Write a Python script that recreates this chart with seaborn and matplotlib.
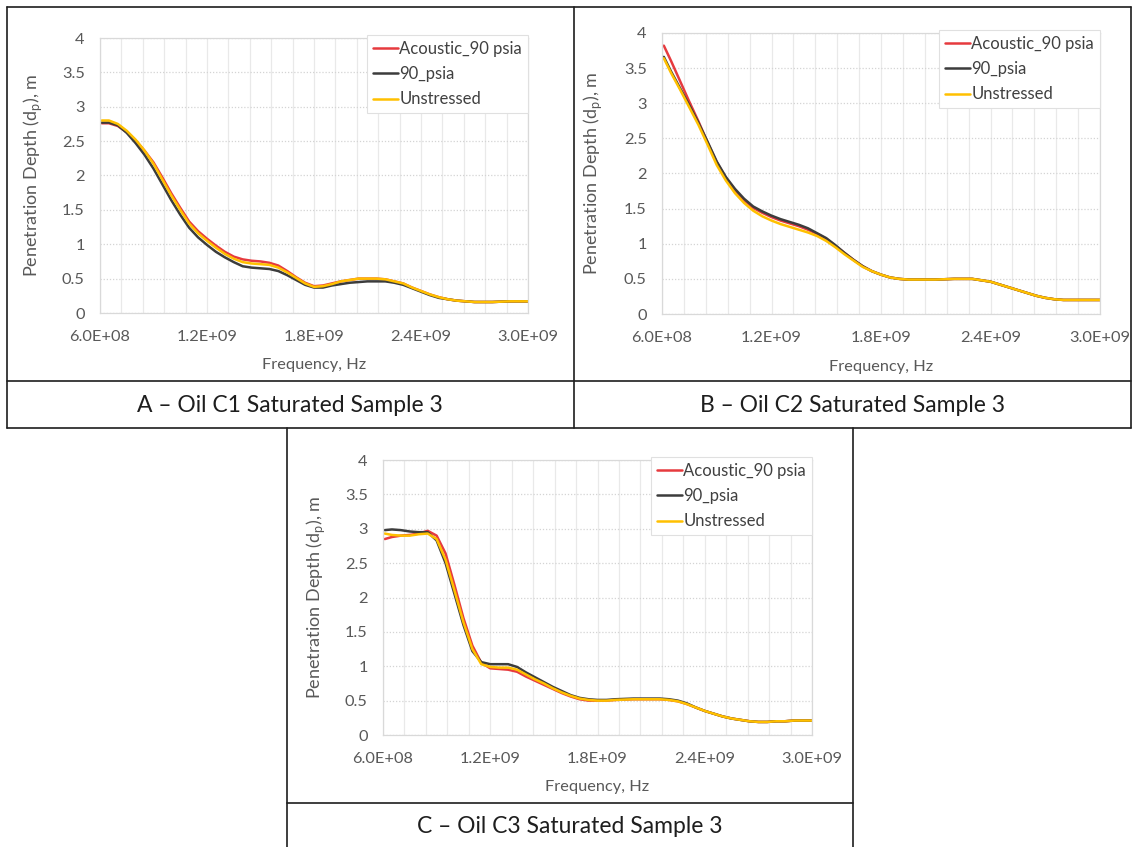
import numpy as np
import pandas as pd
import matplotlib
matplotlib.use("Agg")
import matplotlib.pyplot as plt
import seaborn as sns
from matplotlib.lines import Line2D
from matplotlib.ticker import FixedLocator, FuncFormatter

# ---------------- data ----------------
SERIES = ["Acoustic_90 psia", "90_psia", "Unstressed"]
COLORS = ["#E63A3E", "#3C3C3C", "#FFC000"]

X_TICKS = [6.0e8, 1.2e9, 1.8e9, 2.4e9, 3.0e9]
X_TICK_LABELS = ["6.0E+08", "1.2E+09", "1.8E+09", "2.4E+09", "3.0E+09"]
Y_TICKS = [0, 0.5, 1, 1.5, 2, 2.5, 3, 3.5, 4]

FREQ = [6.1e8, 6.5e8, 7.0e8, 7.5e8, 8.0e8, 8.5e8, 9.0e8, 9.5e8, 1.0e9, 1.05e9,
        1.1e9, 1.15e9, 1.2e9, 1.25e9, 1.3e9, 1.35e9, 1.4e9, 1.45e9, 1.5e9, 1.55e9,
        1.6e9, 1.65e9, 1.7e9, 1.75e9, 1.8e9, 1.85e9, 1.9e9, 1.95e9, 2.0e9, 2.05e9,
        2.1e9, 2.15e9, 2.2e9, 2.25e9, 2.3e9, 2.35e9, 2.4e9, 2.45e9, 2.5e9, 2.55e9,
        2.6e9, 2.65e9, 2.7e9, 2.75e9, 2.8e9, 2.85e9, 2.9e9, 2.95e9, 3.0e9]

A_ACOUSTIC = [2.76, 2.76, 2.72, 2.63, 2.51, 2.36, 2.19, 1.97, 1.74, 1.53,
              1.33, 1.19, 1.08, 0.98, 0.89, 0.82, 0.78, 0.76, 0.75, 0.73,
              0.69, 0.61, 0.52, 0.44, 0.39, 0.40, 0.43, 0.46, 0.48, 0.50,
              0.50, 0.50, 0.49, 0.46, 0.43, 0.37, 0.32, 0.27, 0.23, 0.20,
              0.18, 0.17, 0.16, 0.16, 0.16, 0.165, 0.17, 0.17, 0.17]
A_90PSIA = [2.77, 2.77, 2.73, 2.62, 2.47, 2.30, 2.10, 1.87, 1.64, 1.43,
            1.24, 1.10, 0.99, 0.89, 0.81, 0.74, 0.68, 0.66, 0.65, 0.64,
            0.61, 0.55, 0.48, 0.41, 0.37, 0.37, 0.40, 0.42, 0.44, 0.45,
            0.46, 0.46, 0.46, 0.44, 0.41, 0.36, 0.31, 0.26, 0.22, 0.20,
            0.18, 0.17, 0.16, 0.16, 0.16, 0.165, 0.17, 0.17, 0.17]
A_UNSTRESSED = [2.80, 2.80, 2.75, 2.65, 2.52, 2.36, 2.17, 1.94, 1.71, 1.50,
                1.30, 1.16, 1.05, 0.95, 0.86, 0.79, 0.74, 0.72, 0.71, 0.70,
                0.66, 0.59, 0.51, 0.43, 0.38, 0.39, 0.42, 0.46, 0.48, 0.50,
                0.50, 0.50, 0.49, 0.46, 0.43, 0.37, 0.32, 0.27, 0.23, 0.20,
                0.18, 0.17, 0.16, 0.16, 0.16, 0.165, 0.17, 0.17, 0.17]

B_ACOUSTIC = [3.82, 3.60, 3.31, 3.02, 2.74, 2.44, 2.16, 1.94, 1.76, 1.62,
              1.51, 1.44, 1.38, 1.33, 1.29, 1.25, 1.20, 1.14, 1.07, 0.97,
              0.87, 0.77, 0.68, 0.61, 0.56, 0.52, 0.50, 0.49, 0.49, 0.49,
              0.49, 0.495, 0.50, 0.50, 0.50, 0.48, 0.46, 0.42, 0.38, 0.34,
              0.30, 0.26, 0.23, 0.21, 0.20, 0.20, 0.20, 0.20, 0.20]
B_90PSIA = [3.66, 3.45, 3.21, 2.97, 2.72, 2.45, 2.17, 1.95, 1.78, 1.64,
            1.53, 1.46, 1.40, 1.35, 1.31, 1.27, 1.22, 1.15, 1.08, 0.98,
            0.87, 0.77, 0.68, 0.61, 0.56, 0.52, 0.50, 0.49, 0.49, 0.49,
            0.49, 0.495, 0.50, 0.50, 0.50, 0.48, 0.46, 0.42, 0.38, 0.34,
            0.30, 0.26, 0.23, 0.21, 0.20, 0.20, 0.20, 0.20, 0.20]
B_UNSTRESSED = [3.64, 3.43, 3.19, 2.94, 2.69, 2.41, 2.12, 1.90, 1.72, 1.58,
                1.47, 1.39, 1.33, 1.28, 1.24, 1.20, 1.16, 1.11, 1.04, 0.95,
                0.85, 0.76, 0.67, 0.61, 0.56, 0.52, 0.50, 0.49, 0.49, 0.49,
                0.49, 0.495, 0.50, 0.50, 0.50, 0.48, 0.46, 0.42, 0.38, 0.34,
                0.30, 0.26, 0.23, 0.21, 0.20, 0.20, 0.20, 0.20, 0.20]

C_ACOUSTIC = [2.85, 2.88, 2.90, 2.91, 2.93, 2.97, 2.90, 2.64, 2.18, 1.70,
              1.30, 1.05, 0.97, 0.96, 0.95, 0.92, 0.85, 0.79, 0.73, 0.67,
              0.61, 0.56, 0.52, 0.50, 0.50, 0.50, 0.51, 0.515, 0.52, 0.52,
              0.52, 0.52, 0.51, 0.49, 0.45, 0.40, 0.35, 0.31, 0.27, 0.24,
              0.22, 0.20, 0.19, 0.19, 0.20, 0.20, 0.21, 0.21, 0.21]
C_90PSIA = [2.98, 2.99, 2.98, 2.96, 2.95, 2.95, 2.83, 2.50, 2.05, 1.60,
            1.22, 1.06, 1.03, 1.03, 1.03, 0.99, 0.91, 0.84, 0.77, 0.70,
            0.64, 0.58, 0.54, 0.52, 0.51, 0.51, 0.52, 0.525, 0.53, 0.53,
            0.53, 0.53, 0.52, 0.50, 0.46, 0.40, 0.35, 0.31, 0.27, 0.24,
            0.22, 0.20, 0.19, 0.19, 0.20, 0.20, 0.21, 0.21, 0.21]
C_UNSTRESSED = [2.93, 2.91, 2.90, 2.90, 2.92, 2.93, 2.85, 2.55, 2.10, 1.64,
                1.25, 1.03, 0.99, 0.98, 0.98, 0.95, 0.88, 0.81, 0.75, 0.68,
                0.62, 0.57, 0.53, 0.51, 0.50, 0.50, 0.51, 0.515, 0.52, 0.52,
                0.52, 0.52, 0.51, 0.49, 0.45, 0.40, 0.35, 0.31, 0.27, 0.24,
                0.22, 0.20, 0.19, 0.19, 0.20, 0.20, 0.21, 0.21, 0.21]

CAPTIONS = ["A \u2013 Oil C1 Saturated Sample 3",
            "B \u2013 Oil C2 Saturated Sample 3",
            "C \u2013 Oil C3 Saturated Sample 3"]
X_LABEL = "Frequency, Hz"
Y_LABEL = r"Penetration Depth (d$_\mathregular{p}$), m"

# ---------------- style ----------------
sns.set_theme(style="white")
plt.rcParams["font.family"] = ["Lato", "DejaVu Sans"]

W, H = 1132, 847
fig = plt.figure(figsize=(W / 100, H / 100), dpi=100)
fig.patch.set_facecolor("white")


def px_axes(left, right, top, bottom):
    return fig.add_axes([left / W, 1 - bottom / H, (right - left) / W, (bottom - top) / H])


TEXT_COLOR = "#595959"


def draw_panel(ax, freq, curves):
    frames = []
    for name, vals in zip(SERIES, curves):
        frames.append(pd.DataFrame({"Frequency": freq, "Depth": vals, "Series": name}))
    df = pd.concat(frames, ignore_index=True)
    sns.lineplot(data=df, x="Frequency", y="Depth", hue="Series", hue_order=SERIES,
                 palette=COLORS, linewidth=1.8, sort=False, estimator=None, ax=ax)
    ax.set_xlim(6.0e8, 3.0e9)
    ax.set_ylim(0, 4)
    ax.xaxis.set_major_locator(FixedLocator(X_TICKS))
    ax.set_xticklabels(X_TICK_LABELS)
    ax.xaxis.set_minor_locator(FixedLocator(np.linspace(6.0e8, 3.0e9, 21)))
    ax.yaxis.set_major_locator(FixedLocator(Y_TICKS))
    ax.yaxis.set_major_formatter(FuncFormatter(lambda v, p: f"{v:g}"))
    ax.grid(which="both", axis="x", color="#E9E9E9", linewidth=0.9)
    ax.grid(which="major", axis="y", color="#D4D4D4", linewidth=0.9, linestyle=(0, (1, 1.5)))
    ax.set_axisbelow(True)
    ax.tick_params(axis="both", which="both", length=0, labelsize=11.8, colors=TEXT_COLOR)
    ax.tick_params(axis="x", pad=12)
    ax.tick_params(axis="y", pad=11)
    for sp in ax.spines.values():
        sp.set_color("#D9D9D9")
        sp.set_linewidth(0.9)
    ax.set_xlabel(X_LABEL, fontsize=11.8, color=TEXT_COLOR, va="center")
    ax.xaxis.set_label_coords(0.5, -0.188)
    ax.set_ylabel(Y_LABEL, fontsize=13, color=TEXT_COLOR, va="center")
    ax.yaxis.set_label_coords(-0.158, 0.5)
    handles = [Line2D([0], [0], color=c, lw=1.8) for c in COLORS]
    leg = ax.legend(handles, SERIES, loc="upper right", bbox_to_anchor=(1.0, 1.01),
                    borderaxespad=0, fontsize=12, frameon=True, fancybox=False,
                    handlelength=1.5, handletextpad=0.1, labelspacing=0.55,
                    borderpad=0.35, framealpha=1)
    leg.get_frame().set_edgecolor("#E0E0E0")
    leg.get_frame().set_linewidth(0.8)
    for t in leg.get_texts():
        t.set_color("#404040")


axA = px_axes(100, 528, 38, 313)
draw_panel(axA, FREQ, [A_ACOUSTIC, A_90PSIA, A_UNSTRESSED])
axB = px_axes(662, 1100, 33, 314)
draw_panel(axB, FREQ, [B_ACOUSTIC, B_90PSIA, B_UNSTRESSED])
axC = px_axes(383, 812, 460, 735)
draw_panel(axC, FREQ, [C_ACOUSTIC, C_90PSIA, C_UNSTRESSED])


def line(x0, y0, x1, y1):
    fig.add_artist(Line2D([x0 / W, x1 / W], [1 - y0 / H, 1 - y1 / H],
                          transform=fig.transFigure, color="#1E1E1E", lw=1.2))


# table borders (top row)
line(7, 7, 1131, 7)
line(7, 428, 1131, 428)
line(7, 381, 1131, 381)
line(7, 7, 7, 428)
line(574, 7, 574, 428)
line(1131, 7, 1131, 428)
# bottom cell
line(287, 428, 287, 847)
line(853, 428, 853, 847)
line(287, 803, 853, 803)

# captions
fig.text(290 / W, 1 - 405 / H, CAPTIONS[0], ha="center", va="center", fontsize=16.5, color="#1E1E1E")
fig.text(853 / W, 1 - 405 / H, CAPTIONS[1], ha="center", va="center", fontsize=16.5, color="#1E1E1E")
fig.text(570 / W, 1 - 826 / H, CAPTIONS[2], ha="center", va="center", fontsize=16.5, color="#1E1E1E")

fig.savefig("out.png", dpi=100, facecolor="white")
